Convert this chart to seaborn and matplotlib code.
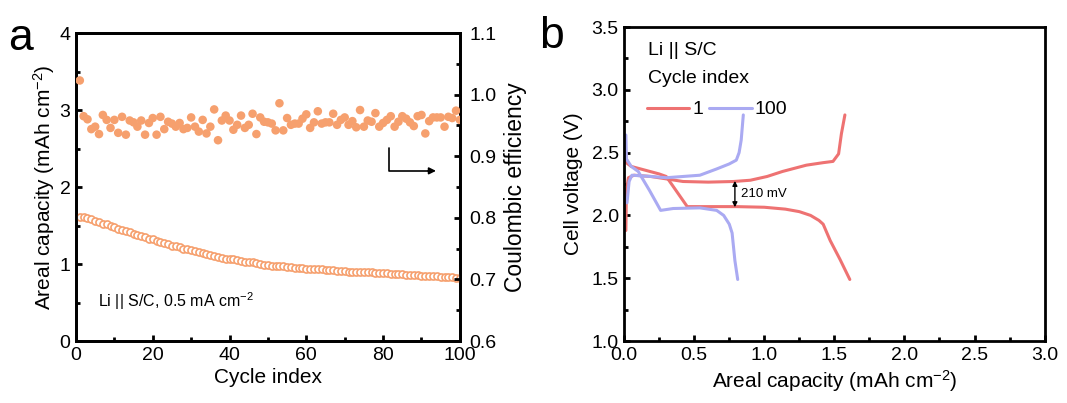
import numpy as np
import pandas as pd
import matplotlib
matplotlib.use("Agg")
import matplotlib.pyplot as plt
from matplotlib.ticker import MultipleLocator
import seaborn as sns

# ---- data: panel a ----
cycles = list(range(1, 101))
capacity = [1.61, 1.61, 1.60, 1.58, 1.56, 1.54, 1.52, 1.52, 1.50, 1.48,
            1.46, 1.44, 1.43, 1.41, 1.39, 1.38, 1.36, 1.35, 1.33, 1.32,
            1.30, 1.28, 1.27, 1.26, 1.24, 1.23, 1.22, 1.20, 1.19, 1.18,
            1.17, 1.15, 1.14, 1.13, 1.12, 1.11, 1.09, 1.08, 1.07, 1.07,
            1.06, 1.05, 1.04, 1.03, 1.02, 1.02, 1.01, 1.00, 0.99, 0.99,
            0.98, 0.98, 0.97, 0.97, 0.96, 0.96, 0.95, 0.95, 0.95, 0.94,
            0.94, 0.93, 0.93, 0.93, 0.92, 0.92, 0.92, 0.91, 0.91, 0.91,
            0.90, 0.90, 0.90, 0.89, 0.89, 0.89, 0.89, 0.88, 0.88, 0.88,
            0.88, 0.87, 0.87, 0.87, 0.87, 0.86, 0.86, 0.86, 0.86, 0.85,
            0.85, 0.84, 0.84, 0.84, 0.83, 0.83, 0.83, 0.83, 0.82, 0.82]
efficiency = [1.023, 0.965, 0.960, 0.944, 0.948, 0.936, 0.967, 0.959, 0.946, 0.959,
              0.938, 0.964, 0.935, 0.958, 0.955, 0.948, 0.958, 0.935, 0.954, 0.962,
              0.935, 0.964, 0.944, 0.956, 0.953, 0.948, 0.954, 0.944, 0.946, 0.963,
              0.948, 0.940, 0.959, 0.937, 0.948, 0.976, 0.926, 0.958, 0.966, 0.958,
              0.943, 0.951, 0.966, 0.946, 0.951, 0.969, 0.936, 0.963, 0.956, 0.955,
              0.953, 0.942, 0.986, 0.942, 0.962, 0.951, 0.953, 0.953, 0.961, 0.968,
              0.946, 0.955, 0.973, 0.953, 0.955, 0.955, 0.969, 0.951, 0.959, 0.963,
              0.951, 0.957, 0.947, 0.975, 0.948, 0.958, 0.956, 0.970, 0.948, 0.954,
              0.959, 0.965, 0.948, 0.956, 0.965, 0.961, 0.955, 0.949, 0.965, 0.967,
              0.937, 0.957, 0.963, 0.963, 0.963, 0.948, 0.964, 0.962, 0.974, 0.959]

# ---- data: panel b (voltage profiles) ----
c1_dis_cap = [0.012, 0.014, 0.05, 0.15, 0.25, 0.30, 0.45, 0.60, 0.80, 1.00, 1.15, 1.25, 1.33, 1.39, 1.42, 1.47, 1.54, 1.61]
c1_dis_v = [2.50, 2.42, 2.39, 2.36, 2.33, 2.31, 2.07, 2.07, 2.07, 2.065, 2.05, 2.03, 2.00, 1.96, 1.93, 1.80, 1.65, 1.49]
c1_chg_cap = [0.012, 0.016, 0.03, 0.07, 0.19, 0.42, 0.60, 0.78, 0.90, 1.02, 1.13, 1.30, 1.42, 1.49, 1.53, 1.55, 1.575]
c1_chg_v = [1.88, 2.20, 2.30, 2.32, 2.31, 2.27, 2.265, 2.27, 2.28, 2.31, 2.35, 2.40, 2.42, 2.43, 2.49, 2.65, 2.80]
c100_dis_cap = [0.012, 0.016, 0.05, 0.10, 0.18, 0.26, 0.35, 0.54, 0.66, 0.71, 0.75, 0.77, 0.79, 0.81]
c100_dis_v = [2.64, 2.45, 2.39, 2.35, 2.20, 2.04, 2.055, 2.06, 2.04, 2.00, 1.93, 1.86, 1.64, 1.49]
c100_chg_cap = [0.02, 0.035, 0.055, 0.19, 0.30, 0.42, 0.54, 0.66, 0.75, 0.80, 0.82, 0.835, 0.85]
c100_chg_v = [2.10, 2.27, 2.32, 2.31, 2.30, 2.31, 2.32, 2.37, 2.41, 2.44, 2.50, 2.60, 2.80]

orange = "#F6A06E"
red = "#EE7272"
blue = "#AAAAF2"

sns.set_style("ticks")
plt.rcParams['font.family'] = ['Liberation Sans', 'DejaVu Sans']
plt.rcParams['mathtext.default'] = 'regular'
plt.rcParams['axes.edgecolor'] = 'black'
plt.rcParams['xtick.color'] = 'black'
plt.rcParams['ytick.color'] = 'black'
plt.rcParams['text.color'] = 'black'
plt.rcParams['axes.labelcolor'] = 'black'
plt.rcParams['axes.linewidth'] = 2.0
plt.rcParams['xtick.direction'] = 'in'
plt.rcParams['ytick.direction'] = 'in'
for k in ['xtick.major.width', 'ytick.major.width', 'xtick.minor.width', 'ytick.minor.width']:
    plt.rcParams[k] = 2.0
plt.rcParams['xtick.major.size'] = 4.5
plt.rcParams['ytick.major.size'] = 4.5
plt.rcParams['xtick.minor.size'] = 3
plt.rcParams['ytick.minor.size'] = 3

fig = plt.figure(figsize=(10.67, 4.03), dpi=100)
ax = fig.add_axes([0.0712, 0.1538, 0.3598, 0.7642])
ax2 = ax.twinx()
bx = fig.add_axes([0.585, 0.1538, 0.394, 0.7792])

df_a = pd.DataFrame({'cycle': cycles, 'capacity': capacity, 'ce': efficiency})

# panel a
sns.scatterplot(data=df_a, x='cycle', y='capacity', ax=ax, marker='o', s=26,
                facecolor='white', edgecolor=orange, linewidth=1.2, zorder=3)
sns.scatterplot(data=df_a, x='cycle', y='ce', ax=ax2, marker='o', s=38,
                color=orange, edgecolor='none', zorder=3)

ax.set_xlim(0, 100)
ax.set_ylim(0, 4)
ax2.set_ylim(0.6, 1.1)
ax.xaxis.set_major_locator(MultipleLocator(20))
ax.xaxis.set_minor_locator(MultipleLocator(10))
ax.yaxis.set_major_locator(MultipleLocator(1))
ax.yaxis.set_minor_locator(MultipleLocator(0.5))
ax2.yaxis.set_major_locator(MultipleLocator(0.1))
ax2.yaxis.set_minor_locator(MultipleLocator(0.05))
ax2.yaxis.set_major_formatter(plt.FormatStrFormatter('%.1f'))
ax.tick_params(labelsize=14, top=False, right=False, pad=4)
ax.tick_params(which='minor', top=False, right=False)
ax2.tick_params(labelsize=14, pad=7)
ax.set_xlabel('Cycle index', fontsize=15, labelpad=3)
ax.set_ylabel(r'Areal capacity (mAh cm$^{-2}$)', fontsize=15, labelpad=2)
ax2.set_ylabel('Coulombic efficiency', fontsize=16.5, labelpad=5)
ax.text(5.7, 0.52, r'Li || S/C, 0.5 mA cm$^{-2}$', fontsize=11.5, va='center', ha='left')

# L-shaped pointer to the right axis
ax.plot([81.5, 81.5, 92.0], [2.51, 2.21, 2.21], color='black', lw=1.2)
ax.annotate('', xy=(94.5, 2.21), xytext=(91.0, 2.21),
            arrowprops=dict(arrowstyle='-|>', color='black', lw=1.2, mutation_scale=10))

# panel b
sns.lineplot(x=c1_dis_cap, y=c1_dis_v, ax=bx, sort=False, estimator=None, color=red, lw=2.2, label='1')
sns.lineplot(x=c1_chg_cap, y=c1_chg_v, ax=bx, sort=False, estimator=None, color=red, lw=2.2)
sns.lineplot(x=c100_dis_cap, y=c100_dis_v, ax=bx, sort=False, estimator=None, color=blue, lw=2.2, label='100')
sns.lineplot(x=c100_chg_cap, y=c100_chg_v, ax=bx, sort=False, estimator=None, color=blue, lw=2.2)

bx.set_xlim(0, 3.0)
bx.set_ylim(1.0, 3.5)
bx.xaxis.set_major_locator(MultipleLocator(0.5))
bx.xaxis.set_minor_locator(MultipleLocator(0.25))
bx.yaxis.set_major_locator(MultipleLocator(0.5))
bx.yaxis.set_minor_locator(MultipleLocator(0.25))
bx.xaxis.set_major_formatter(plt.FormatStrFormatter('%.1f'))
bx.yaxis.set_major_formatter(plt.FormatStrFormatter('%.1f'))
bx.tick_params(labelsize=14, pad=4)
bx.set_xlabel(r'Areal capacity (mAh cm$^{-2}$)', fontsize=15, labelpad=3)
bx.set_ylabel('Cell voltage (V)', fontsize=15, labelpad=6)

bx.annotate('', xy=(0.79, 2.065), xytext=(0.79, 2.275),
            arrowprops=dict(arrowstyle='<|-|>', color='black', lw=1.0, mutation_scale=7,
                            shrinkA=0, shrinkB=0))
bx.text(0.83, 2.17, '210 mV', fontsize=9.5, va='center', ha='left')

bx.text(0.17, 3.31, 'Li || S/C', fontsize=14, va='center', ha='left')
bx.text(0.17, 3.09, 'Cycle index', fontsize=14, va='center', ha='left')
bx.legend(loc='upper left', bbox_to_anchor=(0.035, 0.79), ncol=2, frameon=False,
          fontsize=14, handlelength=2.2, handletextpad=0.15, columnspacing=0.3,
          borderaxespad=0)

fig.text(0.008, 0.905, 'a', fontsize=32, va='center', ha='left')
fig.text(0.505, 0.91, 'b', fontsize=32, va='center', ha='left')

fig.savefig('out.png', dpi=100)
